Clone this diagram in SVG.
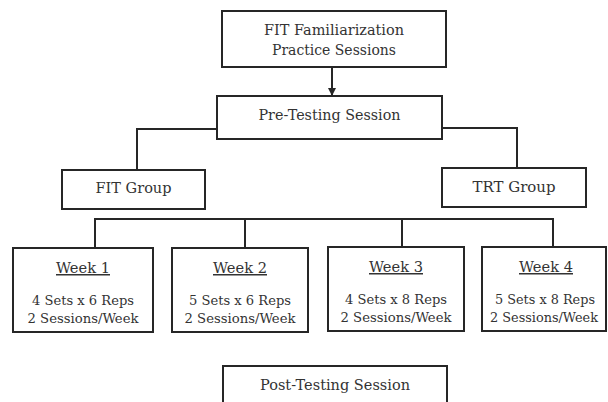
<svg xmlns="http://www.w3.org/2000/svg" width="608" height="402" viewBox="0 0 608 402">
<style>
.box{fill:#fff;stroke:#262626;stroke-width:2}
.ln{fill:none;stroke:#262626;stroke-width:2}
text{fill:#333;text-anchor:middle;font-family:"DejaVu Serif",serif}
.h{font-size:15.5px}
.w{font-size:13.8px}
.t{font-size:15px;text-decoration:underline}
</style>
<defs>
<marker id="arr" markerWidth="8" markerHeight="8" refX="7" refY="4" orient="auto" markerUnits="userSpaceOnUse">
<path d="M0,0 L8,4 L0,8 z" fill="#262626"/>
</marker>
</defs>
<rect width="608" height="402" fill="#fff"/>
<g id="connectors">
<path class="ln" d="M332,67 V95" marker-end="url(#arr)"/>
<path class="ln" d="M217,129 H137 V170"/>
<path class="ln" d="M442,128 H517 V168"/>
<path class="ln" d="M95,248 V219 H553 V247"/>
<path class="ln" d="M245,219 V248"/>
<path class="ln" d="M402,219 V248"/>
</g>
<g id="familiarization">
<rect class="box" x="222" y="11" width="224" height="56"/>
<text class="h" x="334" y="35" textLength="140" lengthAdjust="spacingAndGlyphs">FIT Familiarization</text>
<text class="h" x="334" y="55" textLength="124" lengthAdjust="spacingAndGlyphs">Practice Sessions</text>
</g>
<g id="pretesting">
<rect class="box" x="217" y="96" width="225" height="43"/>
<text class="h" x="329.5" y="120" textLength="142" lengthAdjust="spacingAndGlyphs">Pre-Testing Session</text>
</g>
<g id="fitgroup">
<rect class="box" x="62" y="170" width="143" height="39"/>
<text class="h" x="133.5" y="193" textLength="76" lengthAdjust="spacingAndGlyphs">FIT Group</text>
</g>
<g id="trtgroup">
<rect class="box" x="442" y="168" width="144" height="39"/>
<text class="h" x="514" y="192" textLength="83" lengthAdjust="spacingAndGlyphs">TRT Group</text>
</g>
<g id="week1">
<rect class="box" x="13" y="248" width="140" height="84"/>
<text class="t" x="83" y="273" textLength="54" lengthAdjust="spacingAndGlyphs">Week 1</text>
<text class="w" x="83" y="305" textLength="102" lengthAdjust="spacingAndGlyphs">4 Sets x 6 Reps</text>
<text class="w" x="83" y="323" textLength="111" lengthAdjust="spacingAndGlyphs">2 Sessions/Week</text>
</g>
<g id="week2">
<rect class="box" x="172" y="248" width="136" height="84"/>
<text class="t" x="240" y="273" textLength="54" lengthAdjust="spacingAndGlyphs">Week 2</text>
<text class="w" x="240" y="305" textLength="102" lengthAdjust="spacingAndGlyphs">5 Sets x 6 Reps</text>
<text class="w" x="240" y="323" textLength="111" lengthAdjust="spacingAndGlyphs">2 Sessions/Week</text>
</g>
<g id="week3">
<rect class="box" x="328" y="247" width="136" height="84"/>
<text class="t" x="396" y="272" textLength="54" lengthAdjust="spacingAndGlyphs">Week 3</text>
<text class="w" x="396" y="304" textLength="102" lengthAdjust="spacingAndGlyphs">4 Sets x 8 Reps</text>
<text class="w" x="396" y="322" textLength="111" lengthAdjust="spacingAndGlyphs">2 Sessions/Week</text>
</g>
<g id="week4">
<rect class="box" x="482" y="247" width="124" height="84"/>
<text class="t" x="546" y="272" textLength="54" lengthAdjust="spacingAndGlyphs">Week 4</text>
<text class="w" x="545" y="304" textLength="100" lengthAdjust="spacingAndGlyphs">5 Sets x 8 Reps</text>
<text class="w" x="544" y="322" textLength="108" lengthAdjust="spacingAndGlyphs">2 Sessions/Week</text>
</g>
<g id="posttesting">
<rect class="box" x="223" y="366" width="224" height="50"/>
<text class="h" x="335" y="390" textLength="150" lengthAdjust="spacingAndGlyphs">Post-Testing Session</text>
</g>
</svg>
